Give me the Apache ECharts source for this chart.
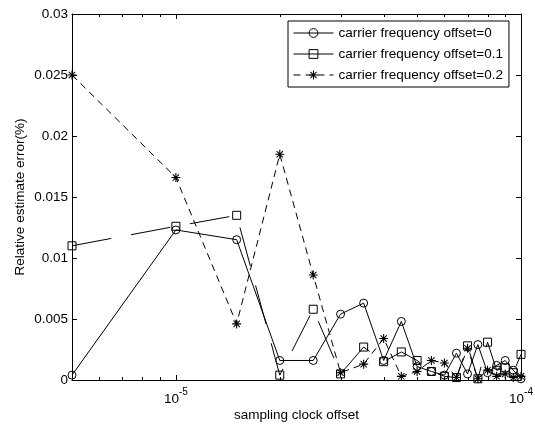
<!DOCTYPE html>
<html lang="en">
<head>
<meta charset="UTF-8">
<title>Relative estimate error</title>
<style>
  html, body { margin: 0; padding: 0; background: #fff; }
</style>
</head>
<body>
<div id="chart" style="width:535px; height:425px"></div>
<script src="https://cdn.jsdelivr.net/npm/echarts@6/dist/echarts.min.js"></script>
<script>
    // sampling clock offset values (x, log scale)
    const clockOffset = [5e-6, 1e-5, 1.5e-5, 2e-5, 2.5e-5, 3e-5, 3.5e-5, 4e-5, 4.5e-5, 5e-5,
        5.5e-5, 6e-5, 6.5e-5, 7e-5, 7.5e-5, 8e-5, 8.5e-5, 9e-5, 9.5e-5, 1e-4];

    // relative estimate error for each carrier frequency offset
    const cfo0 = [0.0004, 0.0123, 0.0115, 0.0016, 0.0016, 0.0054, 0.0063, 0.0016, 0.0048, 0.0011,
        0.0007, 0.0004, 0.0022, 0.0005, 0.0029, 0.0006, 0.0012, 0.0016, 0.0008, 0.0001];
    const cfo01 = [0.0110, 0.0126, 0.0135, 0.0004, 0.0058, 0.0005, 0.0027, 0.0015, 0.0023, 0.0016,
        0.0007, 0.0003, 0.0002, 0.0028, 0.0001, 0.0031, 0.0008, 0.0010, 0.0006, 0.0021];
    const cfo02 = [0.0250, 0.0166, 0.0046, 0.0185, 0.0086, 0.0006, 0.0013, 0.0034, 0.0003, 0.0007,
        0.0016, 0.0014, 0.0002, 0.0026, 0.0001, 0.0008, 0.0003, 0.0005, 0.0002, 0.0003];

    const seriesNames = ['carrier frequency offset=0', 'carrier frequency offset=0.1', 'carrier frequency offset=0.2'];

    // minor ticks of the log axis
    const minorTicks = [6e-6, 7e-6, 8e-6, 9e-6, 2e-5, 3e-5, 4e-5, 5e-5, 6e-5, 7e-5, 8e-5, 9e-5];

    const FONT = 'Liberation Sans, Arial, Helvetica, sans-serif';
    const STAR = 'path://M0,4.4H10V5.6H0Z M4.4,0H5.6V10H4.4Z M1.1,1.9L1.9,1.1L8.9,8.1L8.1,8.9Z M8.1,1.1L8.9,1.9L1.9,8.9L1.1,8.1Z';

    const pairs = (ys) => clockOffset.map((x, i) => [x, ys[i]]);

    const chart = echarts.init(document.getElementById('chart'), null, { renderer: 'canvas' });

    const logAxis = (pos, showLabel) => ({
        type: 'log',
        logBase: 10,
        min: 5e-6,
        max: 1e-4,
        position: pos,
        axisLine: { show: true, onZero: false, lineStyle: { color: '#000', width: 1 } },
        axisTick: { show: true, inside: true, length: 5, lineStyle: { color: '#000' } },
        splitLine: { show: false },
        minorTick: { show: false },
        axisLabel: {
            show: showLabel,
            showMinLabel: false,
            margin: 12,
            color: '#000',
            fontFamily: FONT,
            formatter: (v) => {
                const e = Math.log10(v);
                if (Math.abs(e - Math.round(e)) > 1e-6) return '';
                return '{b|10}{s|' + Math.round(e) + '}';
            },
            rich: {
                b: { fontSize: 13.5, lineHeight: 14, verticalAlign: 'bottom', fontFamily: FONT, color: '#000' },
                s: { fontSize: 10, lineHeight: 10, padding: [0, 0, 9, 0], verticalAlign: 'bottom', fontFamily: FONT, color: '#000' }
            }
        }
    });

    const valAxis = (pos, showLabel) => ({
        type: 'value',
        min: 0,
        max: 0.03,
        interval: 0.005,
        position: pos,
        axisLine: { show: true, onZero: false, lineStyle: { color: '#000', width: 1 } },
        axisTick: { show: true, inside: true, length: 5, lineStyle: { color: '#000' } },
        splitLine: { show: false },
        axisLabel: { show: showLabel, margin: 4, color: '#000', fontSize: 13.5, fontFamily: FONT }
    });

    const xBottom = logAxis('bottom', true);
    xBottom.name = 'sampling clock offset';
    xBottom.nameLocation = 'middle';
    xBottom.nameGap = 28;
    xBottom.nameMoveOverlap = false;
    xBottom.nameTextStyle = { color: '#000', fontSize: 13.5, fontFamily: FONT };

    const yLeft = valAxis('left', true);
    yLeft.name = 'Relative estimate error(%)';
    yLeft.nameLocation = 'middle';
    yLeft.nameGap = 45;
    yLeft.nameMoveOverlap = false;
    yLeft.nameTextStyle = { color: '#000', fontSize: 13.5, fontFamily: FONT };

    chart.setOption({
        backgroundColor: '#fff',
        animation: false,
        textStyle: { fontFamily: FONT },
        grid: { left: 72, right: 14, top: 14, bottom: 45, containLabel: false, outerBoundsMode: 'none' },
        xAxis: [xBottom, logAxis('top', false)],
        yAxis: [yLeft, valAxis('right', false)],
        legend: {
            left: 288,
            top: 21,
            orient: 'vertical',
            itemWidth: 40,
            itemHeight: 11,
            itemGap: 7,
            padding: [5, 6, 5, 5],
            borderColor: '#000',
            borderWidth: 1,
            backgroundColor: '#fff',
            itemStyle: { borderWidth: 1 },
            lineStyle: { width: 1 },
            textStyle: { color: '#000', fontSize: 13.5, fontFamily: FONT },
            data: [
                { name: seriesNames[0], lineStyle: { width: 1 } },
                { name: seriesNames[1], lineStyle: { width: 1, type: 'solid' } },
                { name: seriesNames[2], lineStyle: { width: 1 } }
            ]
        },
        series: [
            {
                // minor ticks on bottom and top edges
                type: 'custom',
                silent: true,
                z: 1,
                data: minorTicks.map(v => [v, 0]),
                encode: { x: 0, y: 1 },
                renderItem: (params, api) => {
                    const x = Math.round(api.coord([api.value(0), 0])[0]) + 0.5;
                    const cs = params.coordSys;
                    return {
                        type: 'group',
                        children: [
                            { type: 'line', shape: { x1: x, y1: cs.y + cs.height, x2: x, y2: cs.y + cs.height - 3 }, style: { stroke: '#000', lineWidth: 1 } },
                            { type: 'line', shape: { x1: x, y1: cs.y, x2: x, y2: cs.y + 3 }, style: { stroke: '#000', lineWidth: 1 } }
                        ]
                    };
                }
            },
            {
                name: seriesNames[0],
                type: 'line',
                data: pairs(cfo0),
                symbol: 'circle',
                symbolSize: 8,
                showAllSymbol: true,
                itemStyle: { color: 'rgba(0,0,0,0)', borderColor: '#000', borderWidth: 1 },
                lineStyle: { color: '#000', width: 1, type: 'solid' }
            },
            {
                name: seriesNames[1],
                type: 'line',
                data: pairs(cfo01),
                symbol: 'rect',
                symbolSize: 8,
                showAllSymbol: true,
                itemStyle: { color: 'rgba(0,0,0,0)', borderColor: '#000', borderWidth: 1 },
                lineStyle: { color: '#000', width: 1, type: [40, 20] }
            },
            {
                name: seriesNames[2],
                type: 'line',
                data: pairs(cfo02),
                symbol: STAR,
                symbolSize: 9,
                showAllSymbol: true,
                itemStyle: { color: '#000' },
                lineStyle: { color: '#000', width: 1, type: [7, 5] }
            }
        ]
    });
</script>
</body>
</html>
